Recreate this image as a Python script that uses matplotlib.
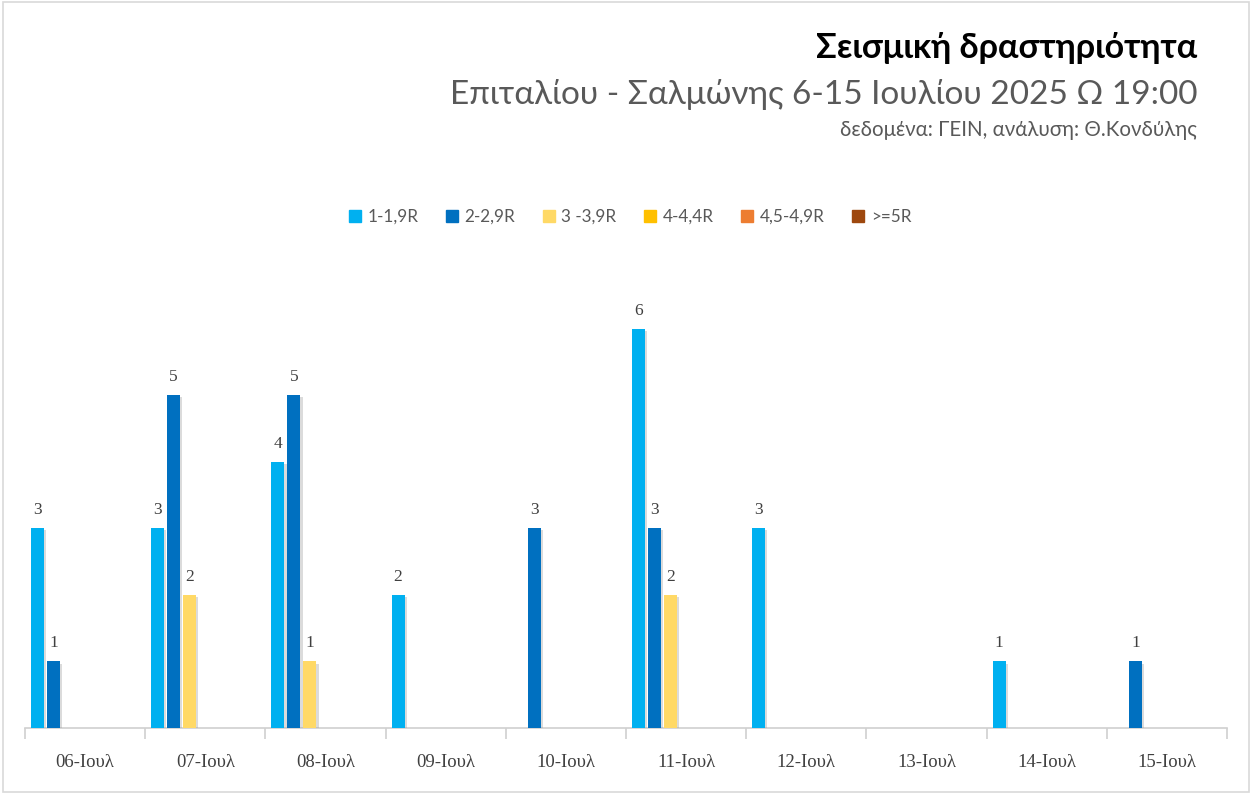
import numpy as np
import matplotlib

matplotlib.use("Agg")
import matplotlib.pyplot as plt
from matplotlib.patches import Rectangle
import matplotlib.patheffects as pe

# ── data ──────────────────────────────────────────────────────────────────────
days = ["06-Ιουλ", "07-Ιουλ", "08-Ιουλ", "09-Ιουλ", "10-Ιουλ",
        "11-Ιουλ", "12-Ιουλ", "13-Ιουλ", "14-Ιουλ", "15-Ιουλ"]
series_names = ["1-1,9R", "2-2,9R", "3 -3,9R", "4-4,4R", "4,5-4,9R", ">=5R"]
m1 = [3, 3, 4, 2, 0, 6, 3, 0, 1, 0]
m2 = [1, 5, 5, 0, 3, 3, 0, 0, 0, 1]
m3 = [0, 2, 1, 0, 0, 2, 0, 0, 0, 0]
m4 = [0, 0, 0, 0, 0, 0, 0, 0, 0, 0]
m45 = [0, 0, 0, 0, 0, 0, 0, 0, 0, 0]
m5 = [0, 0, 0, 0, 0, 0, 0, 0, 0, 0]
series = [m1, m2, m3, m4, m45, m5]
colors = ["#00B0F0", "#0070C0", "#FFD966", "#FFC000", "#ED7D31", "#9E480E"]

SANS = ["Lato", "Open Sans", "DejaVu Sans"]
SERIF = ["Liberation Serif", "DejaVu Serif"]
GREY = "#595959"

fig = plt.figure(figsize=(12.52, 7.94), dpi=100)
ax = fig.add_axes([25 / 1252, 1 - 728 / 794, 1202 / 1252, (728 - 262) / 794])

x = np.arange(len(days))
bw = 13 / 120
for k, (vals, col) in enumerate(zip(series, colors)):
    off = -0.5 + (12.5 + 16 * k) / 120
    bars = ax.bar(x + off, vals, width=bw, color=col, zorder=3)
    for b in bars:
        b.set_path_effects([pe.SimplePatchShadow(offset=(1.5, -1.5), shadow_rgbFace="#999999", alpha=0.35),
                            pe.Normal()])
    for xi, v in zip(x, vals):
        if v > 0:
            ax.text(xi + off, v + 0.15, str(v), ha="center", va="bottom",
                    fontsize=12.5, color="#404040", family=SERIF)

ax.set_xlim(-0.5, len(days) - 0.5)
ax.set_ylim(0, 7)
for s in ["top", "right", "left"]:
    ax.spines[s].set_visible(False)
ax.spines["bottom"].set_color("#D0D0D0")
ax.spines["bottom"].set_linewidth(1.2)
ax.set_yticks([])
ax.set_xticks(np.arange(len(days) + 1) - 0.5, minor=True)
ax.tick_params(axis="x", which="minor", length=8, color="#D0D0D0", width=1.2)
ax.set_xticks(x)
ax.set_xticklabels(days, family=SERIF, fontsize=13.5, color="#404040")
ax.tick_params(axis="x", which="major", length=0, pad=19)

# legend
handles = [Rectangle((0, 0), 1, 1, color=c) for c in colors]
fig.legend(handles, series_names, loc="center", bbox_to_anchor=(630 / 1252, 1 - 217 / 794),
           ncol=6, frameon=False, prop={"family": SANS, "size": 12.3}, labelcolor=GREY,
           handlelength=0.7, handleheight=0.7, handletextpad=0.4, columnspacing=1.6)

# titles
fig.text(1197 / 1252, 1 - 48 / 794, "Σεισμική δραστηριότητα", ha="right", va="center",
         fontsize=24.5, fontweight="bold", color="black", family=SANS)
fig.text(1197 / 1252, 1 - 95 / 794, "Επιταλίου - Σαλμώνης 6-15 Ιουλίου 2025 Ω 19:00",
         ha="right", va="center", fontsize=24, color=GREY, family=SANS)
fig.text(1197 / 1252, 1 - 130 / 794, "δεδομένα: ΓΕΙΝ, ανάλυση: Θ.Κονδύλης",
         ha="right", va="center", fontsize=14.8, color=GREY, family=SANS)

# border
fig.add_artist(Rectangle((0.002, 0.003), 0.996, 0.994, transform=fig.transFigure,
                         fill=False, ec="#D9D9D9", lw=1.2))

fig.savefig("out.png", dpi=100, facecolor="white")
